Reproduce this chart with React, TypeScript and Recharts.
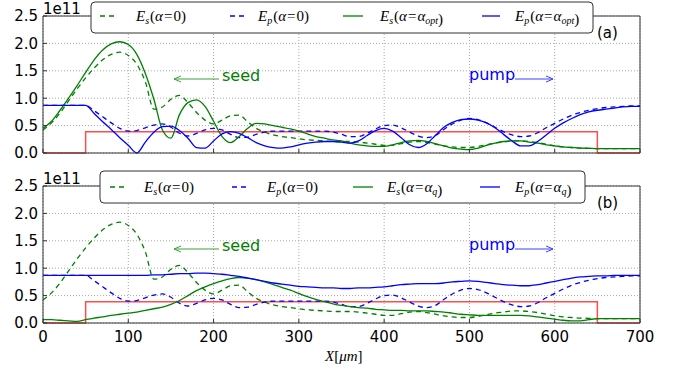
import { LineChart, Line, XAxis, YAxis, CartesianGrid, ReferenceLine } from 'recharts';

// x positions in micrometres
const xs = [
  0, 10, 20, 30, 40, 50, 60, 70, 80, 90,
  100, 110, 120, 130, 140, 150, 160, 170, 180, 190,
  200, 210, 220, 230, 240, 250, 260, 270, 280, 290,
  300, 310, 320, 330, 340, 350, 360, 370, 380, 390,
  400, 410, 420, 430, 440, 450, 460, 470, 480, 490,
  500, 510, 520, 530, 540, 550, 560, 570, 580, 590,
  600, 610, 620, 630, 640, 650, 660, 670, 680, 690,
  700,
];

// all field values in units of 1e11
const esZero = [
  0.42, 0.55, 0.73, 0.95, 1.17, 1.37, 1.55, 1.7, 1.8, 1.84,
  1.78, 1.62, 1.3, 0.8, 0.84, 0.98, 1.05, 0.92, 0.74, 0.6,
  0.53, 0.6, 0.68, 0.69, 0.57, 0.45, 0.38, 0.33, 0.3, 0.28,
  0.26, 0.24, 0.23, 0.22, 0.21, 0.21, 0.21, 0.2, 0.18, 0.16,
  0.14, 0.14, 0.17, 0.2, 0.21, 0.19, 0.16, 0.13, 0.11, 0.1,
  0.1, 0.12, 0.15, 0.18, 0.2, 0.22, 0.22, 0.21, 0.19, 0.16,
  0.13, 0.11, 0.1, 0.09, 0.085, 0.08, 0.08, 0.08, 0.08, 0.08,
  0.08,
];

const epZero = [
  0.87, 0.87, 0.87, 0.87, 0.87, 0.87, 0.77, 0.66, 0.55, 0.45,
  0.4, 0.41, 0.46, 0.51, 0.53, 0.47, 0.36, 0.31, 0.36, 0.42,
  0.45, 0.42, 0.34, 0.28, 0.29, 0.34, 0.38, 0.4, 0.4, 0.4,
  0.4, 0.4, 0.4, 0.4, 0.38, 0.34, 0.3, 0.3, 0.36, 0.44,
  0.5, 0.51, 0.46, 0.38, 0.31, 0.28, 0.32, 0.43, 0.53, 0.6,
  0.63, 0.61, 0.55, 0.47, 0.39, 0.33, 0.3, 0.31, 0.37, 0.46,
  0.54, 0.62, 0.69, 0.74, 0.78, 0.81, 0.83, 0.84, 0.85, 0.86,
  0.86,
];

const esOpt = [
  0.45, 0.58, 0.78, 1.0, 1.23, 1.47, 1.7, 1.88, 1.99, 2.03,
  1.98, 1.8, 1.45, 0.98, 0.42, 0.27, 0.7, 0.92, 0.97, 0.85,
  0.58, 0.3, 0.19, 0.3, 0.45, 0.54, 0.53, 0.5, 0.47, 0.44,
  0.4, 0.35, 0.3, 0.27, 0.24, 0.22, 0.18, 0.15, 0.13, 0.12,
  0.12, 0.15, 0.19, 0.22, 0.23, 0.21, 0.17, 0.13, 0.09, 0.07,
  0.06, 0.09, 0.14, 0.18, 0.21, 0.22, 0.22, 0.2, 0.18, 0.15,
  0.13, 0.11, 0.1, 0.09, 0.085, 0.08, 0.08, 0.08, 0.08, 0.08,
  0.08,
];

const epOpt = [
  0.87, 0.87, 0.87, 0.87, 0.87, 0.87, 0.72, 0.57, 0.43, 0.28,
  0.14, 0.0, 0.2, 0.38, 0.48, 0.49, 0.41, 0.27, 0.1, 0.09,
  0.22, 0.35, 0.39, 0.36, 0.28, 0.19, 0.13, 0.1, 0.09, 0.11,
  0.15, 0.18, 0.2, 0.21, 0.21, 0.2, 0.18, 0.22, 0.32, 0.41,
  0.45, 0.4, 0.28, 0.15, 0.1, 0.17, 0.32, 0.47, 0.56, 0.61,
  0.62, 0.6, 0.55, 0.46, 0.34, 0.22, 0.13, 0.13, 0.21, 0.33,
  0.45, 0.55, 0.63, 0.7, 0.75, 0.78, 0.8, 0.82, 0.84, 0.85,
  0.85,
];

const esQ = [
  0.06, 0.06, 0.05, 0.04, 0.03, 0.06, 0.09, 0.11, 0.14, 0.16,
  0.18, 0.2, 0.23, 0.26, 0.29, 0.34, 0.41, 0.5, 0.59, 0.66,
  0.72, 0.77, 0.81, 0.83, 0.82, 0.79, 0.75, 0.7, 0.65, 0.6,
  0.54, 0.48, 0.43, 0.39, 0.35, 0.32, 0.3, 0.28, 0.27, 0.25,
  0.24, 0.23, 0.23, 0.22, 0.22, 0.22, 0.21, 0.2, 0.18, 0.16,
  0.15, 0.14, 0.14, 0.14, 0.14, 0.14, 0.14, 0.13, 0.11, 0.09,
  0.07, 0.05, 0.04, 0.04, 0.06, 0.08, 0.08, 0.08, 0.08, 0.08,
  0.08,
];

const epQ = [
  0.87, 0.87, 0.87, 0.87, 0.87, 0.87, 0.87, 0.87, 0.87, 0.87,
  0.87, 0.87, 0.87, 0.88, 0.88, 0.89, 0.9, 0.9, 0.91, 0.91,
  0.9, 0.89, 0.87, 0.85, 0.82, 0.79, 0.76, 0.73, 0.71, 0.69,
  0.67, 0.66, 0.65, 0.64, 0.64, 0.63, 0.63, 0.64, 0.64, 0.65,
  0.66, 0.68, 0.7, 0.71, 0.72, 0.72, 0.72, 0.73, 0.75, 0.76,
  0.77, 0.76, 0.74, 0.72, 0.7, 0.69, 0.68, 0.68, 0.7, 0.73,
  0.76, 0.79, 0.82, 0.84, 0.85, 0.86, 0.86, 0.87, 0.87, 0.87,
  0.87,
];

// crystal profile (red step)
const crystal = [
  0, 0, 0, 0, 0, 0.39, 0.39, 0.39, 0.39, 0.39,
  0.39, 0.39, 0.39, 0.39, 0.39, 0.39, 0.39, 0.39, 0.39, 0.39,
  0.39, 0.39, 0.39, 0.39, 0.39, 0.39, 0.39, 0.39, 0.39, 0.39,
  0.39, 0.39, 0.39, 0.39, 0.39, 0.39, 0.39, 0.39, 0.39, 0.39,
  0.39, 0.39, 0.39, 0.39, 0.39, 0.39, 0.39, 0.39, 0.39, 0.39,
  0.39, 0.39, 0.39, 0.39, 0.39, 0.39, 0.39, 0.39, 0.39, 0.39,
  0.39, 0.39, 0.39, 0.39, 0.39, 0, 0, 0, 0, 0,
  0,
];

const xTicks = [0, 100, 200, 300, 400, 500, 600, 700];
const yTicks = [0, 0.5, 1.0, 1.5, 2.0, 2.5];

const GREEN = '#008000';
const BLUE = '#0000ff';
const RED = '#ff0000';
const sans = 'DejaVu Sans';
const serif = 'Liberation Serif';

const topData = xs.map((x, i) => ({ x, esZero: esZero[i], epZero: epZero[i], es: esOpt[i], ep: epOpt[i], red: crystal[i] }));
const botData = xs.map((x, i) => ({ x, esZero: esZero[i], epZero: epZero[i], es: esQ[i], ep: epQ[i], red: crystal[i] }));

const MathLabel = ({ x, y, field, sub }: { x: number; y: number; field: string; sub: string }) => (
  <text x={x} y={y} fontFamily={serif} fontSize={15} fill="#000">
    <tspan fontStyle="italic">E</tspan>
    <tspan fontStyle="italic" fontSize={10} dy={3}>{field}</tspan>
    <tspan dy={-3} dx={1}>(</tspan>
    <tspan fontStyle="italic">α</tspan>
    <tspan dx={1}>=</tspan>
    {sub === '0' ? (
      <tspan dx={1}>0</tspan>
    ) : (
      <>
        <tspan fontStyle="italic" dx={1}>α</tspan>
        <tspan fontStyle="italic" fontSize={10} dy={3}>{sub}</tspan>
        <tspan dy={-3}></tspan>
      </>
    )}
    <tspan>)</tspan>
  </text>
);

const Arrow = ({ x1, x2, y, color }: { x1: number; x2: number; y: number; color: string }) => {
  const d = x2 > x1 ? -1 : 1;
  return (
    <g stroke={color} strokeWidth={1} fill="none" opacity={0.75}>
      <line x1={x1} y1={y} x2={x2} y2={y} />
      <polyline points={`${x2 + d * 7},${y - 3} ${x2},${y} ${x2 + d * 7},${y + 3}`} />
    </g>
  );
};

type LegendLayout = { box: [number, number, number, number]; lines: [number, number][]; texts: number[]; base: number };

const Panel = ({ data, tag, sub, legend, showX, height, bottomMargin }: {
  data: typeof topData; tag: string; sub: string; legend: LegendLayout; showX: boolean; height: number; bottomMargin: number;
}) => {
  const [bx, by, bw, bh] = legend.box;
  const mid = legend.base - 5;
  return (
    <div style={{ position: 'relative', width: 678, height }}>
      <LineChart width={678} height={height} data={data} margin={{ top: 16, right: 38, left: 0, bottom: bottomMargin }}>
        <CartesianGrid stroke="#a8a8a8" strokeDasharray="1 2" />
        <XAxis
          dataKey="x"
          type="number"
          domain={[0, 700]}
          ticks={xTicks}
          height={20}
          tickSize={-4}
          tickMargin={12}
          stroke="#333"
          tick={{ fill: '#000', fontSize: 15, fontFamily: sans }}
          tickFormatter={(v) => (showX ? String(v) : '')}
        />
        <YAxis
          type="number"
          domain={[0, 2.5]}
          ticks={yTicks}
          width={43}
          tickSize={-4}
          tickMargin={9}
          stroke="#333"
          tick={{ fill: '#000', fontSize: 15, fontFamily: sans }}
          tickFormatter={(v) => Number(v).toFixed(1)}
        />
        <ReferenceLine y={2.5} stroke="#333" />
        <ReferenceLine x={700} stroke="#333" />
        <Line type="stepAfter" dataKey="red" stroke={RED} strokeOpacity={0.7} strokeWidth={1.5} dot={false} isAnimationActive={false} />
        <Line type="monotone" dataKey="esZero" stroke={GREEN} strokeWidth={1.3} strokeDasharray="5 4" dot={false} isAnimationActive={false} />
        <Line type="monotone" dataKey="epZero" stroke={BLUE} strokeWidth={1.3} strokeDasharray="5 4" dot={false} isAnimationActive={false} />
        <Line type="monotone" dataKey="es" stroke={GREEN} strokeWidth={1.3} dot={false} isAnimationActive={false} />
        <Line type="monotone" dataKey="ep" stroke={BLUE} strokeWidth={1.3} dot={false} isAnimationActive={false} />
      </LineChart>
      <svg width={678} height={height} style={{ position: 'absolute', left: 0, top: 0, pointerEvents: 'none' }}>
        <text x={43} y={14} fontFamily={sans} fontSize={15} fill="#000">1e11</text>
        <text x={597} y={38} fontFamily={sans} fontSize={15} fill="#000">{tag}</text>
        <text x={222} y={81} fontFamily={sans} fontSize={16} fill={GREEN}>seed</text>
        <Arrow x1={219} x2={174} y={79} color={GREEN} />
        <text x={469} y={80} fontFamily={sans} fontSize={16} fill={BLUE}>pump</text>
        <Arrow x1={515} x2={553} y={79} color={BLUE} />
        <rect x={bx} y={by} width={bw} height={bh} rx={4} fill="#fff" stroke="#333" strokeWidth={1} />
        <line x1={legend.lines[0][0]} x2={legend.lines[0][1]} y1={mid} y2={mid} stroke={GREEN} strokeWidth={1.3} strokeDasharray="5 4" />
        <line x1={legend.lines[1][0]} x2={legend.lines[1][1]} y1={mid} y2={mid} stroke={BLUE} strokeWidth={1.3} strokeDasharray="5 4" />
        <line x1={legend.lines[2][0]} x2={legend.lines[2][1]} y1={mid} y2={mid} stroke={GREEN} strokeWidth={1.3} />
        <line x1={legend.lines[3][0]} x2={legend.lines[3][1]} y1={mid} y2={mid} stroke={BLUE} strokeWidth={1.3} />
        <MathLabel x={legend.texts[0]} y={legend.base} field="s" sub="0" />
        <MathLabel x={legend.texts[1]} y={legend.base} field="p" sub="0" />
        <MathLabel x={legend.texts[2]} y={legend.base} field="s" sub={sub} />
        <MathLabel x={legend.texts[3]} y={legend.base} field="p" sub={sub} />
        {showX && (
          <text x={325} y={191} fontFamily={serif} fontSize={15} fontStyle="italic" fill="#000">
            X<tspan fontStyle="normal">[</tspan>μm<tspan fontStyle="normal">]</tspan>
          </text>
        )}
      </svg>
    </div>
  );
};

const App = () => {
  return (
    <div style={{ position: 'absolute', left: 0, top: 0, width: 678, height: 372, background: '#fff' }}>
      <Panel
        data={topData}
        tag="(a)"
        sub="opt"
        showX={false}
        height={170}
        bottomMargin={-3}
        legend={{ box: [91, 2, 502, 31], lines: [[100, 116], [230, 246], [343, 363], [482, 500]], texts: [136, 258, 380, 515], base: 21 }}
      />
      <Panel
        data={botData}
        tag="(b)"
        sub="q"
        showX={true}
        height={202}
        bottomMargin={29}
        legend={{ box: [100, 1, 485, 32], lines: [[110, 126], [232, 248], [353, 373], [480, 500]], texts: [144, 267, 387, 515], base: 22 }}
      />
    </div>
  );
};

export default App;
